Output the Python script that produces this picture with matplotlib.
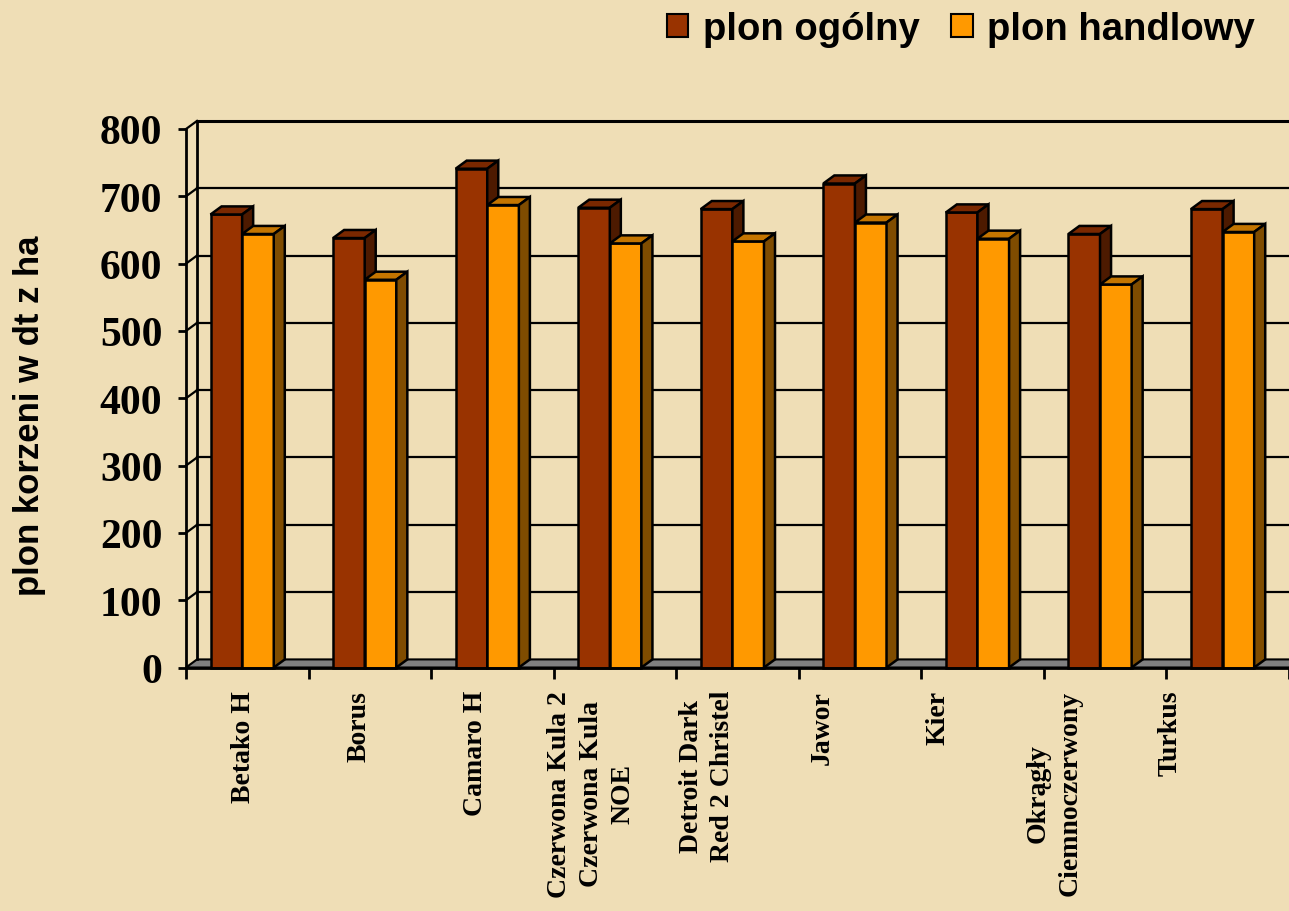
import numpy as np
import matplotlib.pyplot as plt
from matplotlib.patches import Polygon, Patch

odmiany = ["Betako H", "Borus", "Camaro H", "Czerwona Kula 2\nCzerwona Kula\nNOE",
           "Detroit Dark\nRed 2 Christel", "Jawor", "Kier",
           "Okrągły\nCiemnoczerwony", "Turkus"]
plon_ogolny = [673, 638, 741, 683, 681, 719, 676, 644, 681]
plon_handlowy = [644, 576, 687, 630, 633, 661, 637, 569, 647]
y_ticks = [0, 100, 200, 300, 400, 500, 600, 700, 800]
serie = ["plon ogólny", "plon handlowy"]

# colours: front, top, side
kol_ogolny = ("#993300", "#7a2800", "#4d1a00")
kol_handlowy = ("#ff9900", "#c47500", "#7f4c00")
tlo = "#efdeb6"

# fake 3d depth (x in categories, y in data units)
dx, dy = 0.09, 12
x0_bar, w_bar = 0.20, 0.258

fig = plt.figure(figsize=(12.89, 9.12), dpi=100, facecolor=tlo)
ax = fig.add_axes([186 / 1289, 1 - 668.5 / 912, 1103 / 1289, 538.5 / 912])
ax.set_facecolor("none")
n = len(odmiany)
ax.set_xlim(0, n)
ax.set_ylim(0, 800)

# walls and floor
ax.add_patch(Polygon([(0, 0), (n, 0), (n + dx, dy), (dx, dy)], closed=True,
                     facecolor="#808080", edgecolor="black", lw=1.5, clip_on=False, zorder=1))
ax.plot([dx, dx], [dy, 800 + dy], color="black", lw=2, clip_on=False, zorder=1)
for v in y_ticks[1:]:
    ax.plot([dx, n + dx], [v + dy, v + dy], color="black", lw=1.6 if v < 800 else 2.2,
            clip_on=False, zorder=1)
    ax.plot([0, dx], [v, v + dy], color="black", lw=1.6, clip_on=False, zorder=1)


def slupek(x, h, kolory):
    front, top, side = kolory
    x1 = x + w_bar
    ax.add_patch(Polygon([(x, 0), (x1, 0), (x1, h), (x, h)], closed=True,
                         facecolor=front, edgecolor="black", lw=1.8, clip_on=False, zorder=3))
    ax.add_patch(Polygon([(x, h), (x1, h), (x1 + dx, h + dy), (x + dx, h + dy)], closed=True,
                         facecolor=top, edgecolor="black", lw=1.8, clip_on=False, zorder=3))
    ax.add_patch(Polygon([(x1, 0), (x1, h), (x1 + dx, h + dy), (x1 + dx, dy)], closed=True,
                         facecolor=side, edgecolor="black", lw=1.8, clip_on=False, zorder=3))


for i in range(n):
    slupek(i + x0_bar, plon_ogolny[i], kol_ogolny)
    slupek(i + x0_bar + w_bar, plon_handlowy[i], kol_handlowy)

for s in ["top", "right"]:
    ax.spines[s].set_visible(False)
for s in ["left", "bottom"]:
    ax.spines[s].set_linewidth(2)
    ax.spines[s].set_zorder(5)

ax.set_yticks(y_ticks)
ax.set_yticklabels([str(v) for v in y_ticks], fontfamily="Liberation Serif",
                   fontweight="bold", fontsize=30)
ax.tick_params(axis="y", length=6, width=2, pad=11)

ax.set_xticks(range(n + 1))
ax.set_xticklabels([])
ax.tick_params(axis="x", which="major", length=8, width=2)
# labels drift slightly left, as in the original slide
ax.set_xticks([i + 0.47 - 0.055 * i for i in range(n)], minor=True)
ax.set_xticklabels(odmiany, minor=True, rotation=90, fontfamily="Liberation Serif",
                   fontweight="bold", fontsize=20, ha="center", va="top",
                   multialignment="center", linespacing=1.35)
ax.tick_params(axis="x", which="minor", length=0, pad=16)

fig.text(30 / 1289, 1 - 416 / 912, "plon korzeni w dt z ha", rotation=90,
         ha="center", va="center", fontfamily="Liberation Sans", fontweight="bold", fontsize=25)

uchwyty = [Patch(facecolor=kol_ogolny[0], edgecolor="black", lw=1.5),
           Patch(facecolor=kol_handlowy[0], edgecolor="black", lw=1.5)]
fig.legend(uchwyty, serie, loc="center right", bbox_to_anchor=(1.0, 1 - 30 / 912),
           ncol=2, frameon=False, handlelength=0.56, handleheight=0.56, handletextpad=0.37,
           columnspacing=0.84, prop={"family": "Liberation Sans", "weight": "bold", "size": 27.5})

fig.savefig("out.png", dpi=100, facecolor=tlo)
